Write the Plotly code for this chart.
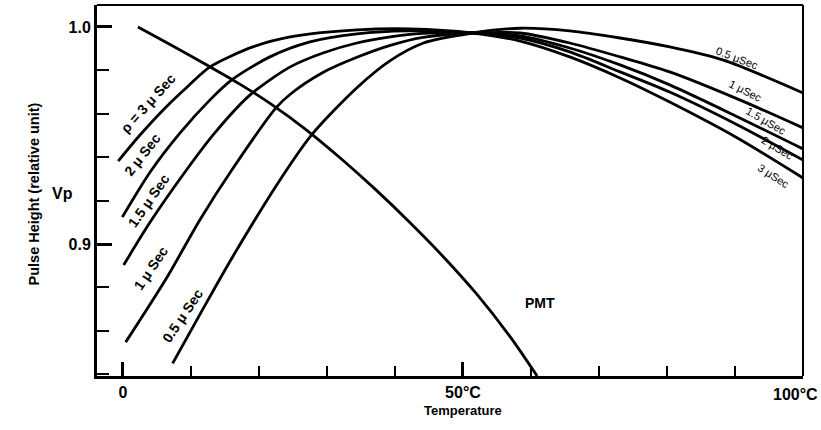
import plotly.graph_objects as go

# ---- data ----
pmt_x = [2.2, 7.0, 12.0, 17.0, 22.0, 27.0, 32.0, 37.0, 42.0, 47.0, 52.0, 57.0, 60.9]
pmt_y = [1.000, 0.9918, 0.9830, 0.9740, 0.9640, 0.9525, 0.9395, 0.9255, 0.9105, 0.8945, 0.8770, 0.8570, 0.8392]

s05_x = [7.3, 11.3, 16.2, 23.4, 27.8, 34.4, 39.3, 44.1, 51.4, 58.4, 65.7, 73.1, 80.4, 88.2, 100.0]
s05_y = [0.8450, 0.8675, 0.8945, 0.9310, 0.9505, 0.9720, 0.9845, 0.9925, 0.9972, 0.9994, 0.9982, 0.9949, 0.9908, 0.9848, 0.9696]

s10_x = [0.4, 6.5, 11.3, 16.2, 22.5, 24.6, 29.4, 34.4, 39.3, 44.1, 51.4, 58.4, 65.7, 73.1, 80.4, 90.7, 100.0]
s10_y = [0.8548, 0.8848, 0.9111, 0.9350, 0.9627, 0.9690, 0.9790, 0.9860, 0.9915, 0.9952, 0.9972, 0.9972, 0.9926, 0.9862, 0.9793, 0.9664, 0.9535]

s15_x = [0.1, 4.0, 8.8, 13.5, 18.7, 24.6, 29.4, 34.4, 39.3, 44.1, 51.4, 58.4, 65.7, 73.1, 80.4, 90.1, 100.0]
s15_y = [0.8903, 0.9101, 0.9318, 0.9512, 0.9687, 0.9816, 0.9880, 0.9926, 0.9954, 0.9970, 0.9972, 0.9959, 0.9903, 0.9825, 0.9733, 0.9590, 0.9438]

s20_x = [-0.1, 4.0, 8.4, 12.8, 16.0, 21.6, 27.5, 34.4, 41.8, 51.4, 58.4, 65.7, 73.1, 80.4, 90.1, 100.0]
s20_y = [0.9124, 0.9332, 0.9512, 0.9664, 0.9756, 0.9862, 0.9931, 0.9968, 0.9982, 0.9972, 0.9949, 0.9885, 0.9793, 0.9700, 0.9553, 0.9387]

s30_x = [-0.7, 2.5, 6.2, 9.6, 12.8, 19.1, 24.6, 34.4, 42.2, 51.4, 58.4, 65.7, 73.1, 80.4, 90.1, 100.0]
s30_y = [0.9382, 0.9502, 0.9627, 0.9728, 0.9816, 0.9908, 0.9954, 0.9986, 0.9991, 0.9972, 0.9935, 0.9862, 0.9765, 0.9654, 0.9493, 0.9304]

x_tickvals = [0, 50, 100]
x_ticktext = ["0", "50°C", ""]
y_range = [0.8392, 1.0101]
x_range = [-3.82, 100.0]

FONT = "Liberation Sans"

fig = go.Figure()
for xs, ys in [(pmt_x, pmt_y), (s05_x, s05_y), (s10_x, s10_y), (s15_x, s15_y), (s20_x, s20_y), (s30_x, s30_y)]:
    fig.add_trace(go.Scatter(x=xs, y=ys, mode="lines",
                             line=dict(color="black", width=2.8, shape="spline", smoothing=0.8),
                             hoverinfo="skip", showlegend=False, cliponaxis=True))

# curve labels
left_labels = [
    ("ρ = 3 μ Sec", 3.7, 0.965, -48),
    ("2 μ Sec", 2.8, 0.941, -52),
    ("1.5 μ Sec", 3.7, 0.920, -55),
    ("1 μ Sec", 4.1, 0.889, -56),
    ("0.5 μ Sec", 8.7, 0.867, -56),
]
for t, x, y, a in left_labels:
    fig.add_annotation(x=x, y=y, text=t, textangle=a, showarrow=False,
                       font=dict(family=FONT, size=14, color="black", weight="bold"))

right_labels = [
    ("0.5 μSec", 90.3, 0.9857, 21),
    ("1 μSec", 91.6, 0.9705, 27),
    ("1.5 μSec", 94.6, 0.9567, 30),
    ("2 μSec", 96.3, 0.9442, 31),
    ("3 μSec", 95.7, 0.9313, 33),
]
for t, x, y, a in right_labels:
    fig.add_annotation(x=x, y=y, text=t, textangle=a, showarrow=False,
                       font=dict(family=FONT, size=11, color="black"))

fig.add_annotation(x=61.3, y=0.8728, text="PMT", showarrow=False,
                   font=dict(family=FONT, size=14, color="black", weight="bold"))

# "100°C" tick label placed inside the page edge
fig.add_annotation(x=100, y=0, yref="paper", text="100°C", showarrow=False,
                   xanchor="right", yanchor="top", xshift=17, yshift=-8,
                   font=dict(family=FONT, size=16, color="black", weight="bold"))

# axis titles
fig.add_annotation(xref="paper", yref="paper", x=-0.103, y=0.49, text="Pulse Height (relative unit)",
                   textangle=-90, showarrow=False,
                   font=dict(family=FONT, size=14.5, color="black", weight="bold"))
fig.add_annotation(xref="paper", yref="paper", x=-0.066, y=0.493, text="Vp", showarrow=False,
                   font=dict(family=FONT, size=16, color="black", weight="bold"))
fig.add_annotation(xref="paper", yref="paper", x=0.518, y=-0.068, text="Temperature", showarrow=False,
                   yanchor="top",
                   font=dict(family=FONT, size=13, color="black", weight="bold"))

# top / right frame
fig.add_shape(type="line", xref="paper", yref="paper", x0=0, x1=1, y0=1, y1=1,
              line=dict(color="black", width=2))
fig.add_shape(type="line", xref="paper", yref="paper", x0=1, x1=1, y0=0, y1=1,
              line=dict(color="black", width=2))

fig.update_layout(
    width=821, height=430,
    margin=dict(l=97, r=18, t=5, b=54),
    paper_bgcolor="white", plot_bgcolor="white",
    showlegend=False,
    xaxis=dict(range=x_range, showgrid=False, zeroline=False,
               showline=True, linecolor="black", linewidth=3,
               tickmode="array", tickvals=x_tickvals, ticktext=x_ticktext,
               ticks="inside", ticklen=14, tickwidth=2.5, tickcolor="black",
               tickfont=dict(family=FONT, size=16, color="black", weight="bold"),
               minor=dict(dtick=10, tick0=0, ticks="inside", ticklen=10, tickwidth=2, tickcolor="black")),
    yaxis=dict(range=y_range, showgrid=False, zeroline=False,
               showline=True, linecolor="black", linewidth=3,
               tickmode="linear", tick0=0, dtick=0.1, tickformat=".1f",
               ticks="inside", ticklen=15, tickwidth=2.5, tickcolor="black",
               tickfont=dict(family=FONT, size=16, color="black", weight="bold"),
               minor=dict(dtick=0.02, tick0=0.9, ticks="inside", ticklen=12, tickwidth=2, tickcolor="black")),
)

fig.write_html("out.html", config={"displayModeBar": False},
               post_script="document.body.style.margin='0';document.body.style.padding='0';")
